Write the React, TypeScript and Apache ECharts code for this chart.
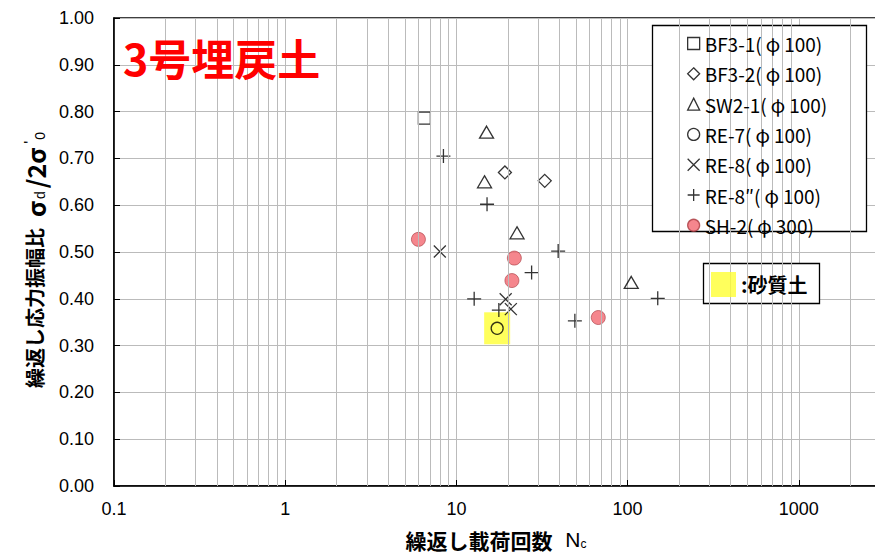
import React, { useEffect, useRef } from "react";
import * as echarts from "echarts";

// ---- data (N_c, σd/2σ'0) ----
const bf31 = [[6.5, 0.786]];
const bf32 = [[19.2, 0.670], [32.8, 0.652]];
const sw21 = [[15.0, 0.756], [14.6, 0.650], [22.6, 0.541], [105, 0.435]];
const re7 = [[17.3, 0.337]];
const re8 = [[8.0, 0.501], [19.4, 0.399], [20.8, 0.378]];
const re8b = [
  [8.4, 0.705], [15.1, 0.602], [39.3, 0.502], [27.5, 0.456],
  [12.7, 0.400], [17.7, 0.376], [49.2, 0.353], [150, 0.401],
];
const sh2 = [[6.0, 0.527], [21.8, 0.487], [21.1, 0.439], [67.4, 0.360]];
const sandy = [[17.3, 0.337]];

const seriesNames = [
  "BF3-1(φ100)",
  "BF3-2(φ100)",
  "SW2-1(φ100)",
  "RE-7(φ100)",
  "RE-8(φ100)",
  "RE-8″(φ100)",
  "SH-2(φ300)",
];
const sandyName = ":砂質土";
const titleText = "3号埋戻土";

const xMin = 0.1;
const xMax = 10000;
const yTicks = [0, 0.1, 0.2, 0.3, 0.4, 0.5, 0.6, 0.7, 0.8, 0.9, 1.0];
const minorGridX = [
  0.2, 0.3, 0.4, 0.5, 0.6, 0.7, 0.8, 0.9,
  2, 3, 4, 5, 6, 7, 8, 9,
  20, 30, 40, 50, 60, 70, 80, 90,
  200, 300, 400, 500, 600, 700, 800, 900,
  2000, 3000, 4000, 5000, 6000, 7000, 8000, 9000,
];

const GRID = "#bbbbbb";
const JP = "'Noto Sans CJK JP', 'Noto Sans', sans-serif";
const LAT = "'Liberation Sans', Arial, sans-serif";

const crossPath = "path://M0,0L12,12M12,0L0,12";
const plusPath = "path://M6,0L6,12M0,6L12,6";

export default function App() {
  const ref = useRef<HTMLDivElement>(null);
  useEffect(() => {
    if (!ref.current) return;
    const chart = echarts.init(ref.current, null, { renderer: "svg" });
    const hollow = {
      color: "rgba(255,255,255,0)",
      borderColor: "#000",
      borderWidth: 1.3,
    };
    const option: any = {
      animation: false,
      backgroundColor: "#fff",
      title: {
        text: titleText,
        left: 123,
        top: 34,
        padding: 0,
        textStyle: {
          fontSize: 43,
          fontWeight: "bold",
          color: "#ff0000",
          fontFamily: JP,
          lineHeight: 46,
        },
      },
      grid: {
        left: 114,
        top: 18,
        bottom: 72,
        right: 30,
        outerBoundsMode: "none",
        show: true,
        borderColor: "#000",
        borderWidth: 1.5,
        backgroundColor: "rgba(0,0,0,0)",
      },
      legend: [
        {
          data: seriesNames,
          orient: "vertical",
          left: 687,
          top: 34,
          padding: 0,
          itemGap: 11.3,
          itemWidth: 12,
          itemHeight: 12,
          z: 10,
          itemStyle: { borderWidth: 1.3 },
          formatter: (name: string) => name.replace("φ", "{p|φ}"),
          textStyle: {
            fontSize: 19,
            lineHeight: 18,
            color: "#000",
            fontFamily: JP,
            rich: {
              p: { fontSize: 19, lineHeight: 18, color: "#000", fontFamily: JP, padding: [0, 4, 0, 4] },
            },
          },
        },
        {
          data: [sandyName],
          orient: "vertical",
          left: 711,
          top: 272,
          padding: 0,
          itemWidth: 25,
          itemHeight: 25,
          z: 10,
          itemStyle: { borderWidth: 0 },
          textStyle: {
            fontSize: 20,
            fontWeight: "bold",
            color: "#000",
            fontFamily: JP,
          },
        },
      ],
      graphic: [
        {
          type: "rect",
          z: 5,
          shape: { x: 652.5, y: 25.5, width: 214, height: 206 },
          style: { fill: "#fff", stroke: "#000", lineWidth: 1.3 },
        },
        {
          type: "rect",
          z: 5,
          shape: { x: 703.5, y: 263.5, width: 116, height: 40 },
          style: { fill: "#fff", stroke: "#000", lineWidth: 1.3 },
        },
      ],
      xAxis: {
        type: "log",
        logBase: 10,
        min: xMin,
        max: xMax,
        name: "{t|繰返し載荷回数}  {n|N}{s|c}",
        nameLocation: "middle",
        nameGap: 43,
        nameTextStyle: {
          padding: [0, 92, 0, 0],
          rich: {
            t: { fontSize: 21, fontWeight: "bold", fontFamily: JP, color: "#000" },
            n: { fontSize: 21, fontFamily: LAT, color: "#000", padding: [0, 0, 0, 6] },
            s: { fontSize: 12, fontFamily: LAT, color: "#000", verticalAlign: "bottom", padding: [8, 0, 0, 0] },
          },
        },
        axisLine: { show: true, lineStyle: { color: "#000", width: 1.5 } },
        axisTick: { show: true, inside: true, length: 6, lineStyle: { color: "#000" } },
        axisLabel: {
          fontSize: 18,
          color: "#000",
          fontFamily: LAT,
          margin: 14,
          showMaxLabel: false,
          formatter: (v: number) => (v >= 1 ? String(Math.round(v)) : String(+v.toPrecision(1))),
        },
        splitLine: { show: true, lineStyle: { color: GRID, width: 1 } },
      },
      yAxis: {
        type: "value",
        min: 0,
        max: 1,
        interval: 0.1,
        name: "{t|繰返し応力振幅比}   {g|σ}{s|d}{g|/2σ}{p|'}{s|0}",
        nameLocation: "middle",
        nameRotate: 90,
        nameGap: 67,
        nameTextStyle: {
          padding: [0, 14, 0, 0],
          rich: {
            t: { fontSize: 20, fontWeight: "bold", fontFamily: JP, color: "#000" },
            g: { fontSize: 25, fontWeight: "bold", fontFamily: JP, color: "#000", padding: [0, 1, 0, 1] },
            s: { fontSize: 14, fontFamily: LAT, color: "#000", verticalAlign: "bottom", padding: [8, 2, 0, 1] },
            p: { fontSize: 16, fontFamily: LAT, color: "#000", verticalAlign: "top", padding: [0, 0, 0, 3] },
          },
        },
        axisLine: { show: true, lineStyle: { color: "#000", width: 1.5 } },
        axisTick: { show: true, inside: true, length: 6, lineStyle: { color: "#000" } },
        axisLabel: {
          fontSize: 18,
          color: "#000",
          fontFamily: LAT,
          margin: 20,
          formatter: (v: number) => v.toFixed(2),
          customValues: yTicks,
        },
        splitLine: { show: true, lineStyle: { color: GRID, width: 1 } },
      },
      series: [
        {
          name: "minor-grid",
          type: "scatter",
          data: [],
          z: 1,
          silent: true,
          markLine: {
            silent: true,
            symbol: ["none", "none"],
            label: { show: false },
            lineStyle: { color: GRID, type: "solid", width: 1 },
            emphasis: { disabled: true },
            data: minorGridX.map((v) => ({ xAxis: v })),
          },
        },
        {
          name: sandyName,
          type: "scatter",
          data: sandy,
          symbol: "rect",
          symbolSize: [26, 32],
          z: 2,
          itemStyle: { color: "#ffff33" },
        },
        {
          name: seriesNames[0],
          type: "scatter",
          data: bf31,
          symbol: "rect",
          symbolSize: 12,
          z: 3,
          itemStyle: hollow,
        },
        {
          name: seriesNames[1],
          type: "scatter",
          data: bf32,
          symbol: "diamond",
          symbolSize: 13,
          z: 3,
          itemStyle: hollow,
        },
        {
          name: seriesNames[2],
          type: "scatter",
          data: sw21,
          symbol: "triangle",
          symbolSize: [14, 12],
          z: 3,
          itemStyle: hollow,
        },
        {
          name: seriesNames[3],
          type: "scatter",
          data: re7,
          symbol: "circle",
          symbolSize: 12,
          z: 3,
          itemStyle: hollow,
        },
        {
          name: seriesNames[4],
          type: "scatter",
          data: re8,
          symbol: crossPath,
          symbolSize: 12,
          z: 3,
          itemStyle: hollow,
        },
        {
          name: seriesNames[5],
          type: "scatter",
          data: re8b,
          symbol: plusPath,
          symbolSize: 14,
          z: 3,
          itemStyle: hollow,
        },
        {
          name: seriesNames[6],
          type: "scatter",
          data: sh2,
          symbol: "circle",
          symbolSize: 14,
          z: 3,
          itemStyle: { color: "#f26870", borderColor: "#a83a40", borderWidth: 0.8 },
        },
      ],
    };
    chart.setOption(option);
    return () => chart.dispose();
  }, []);
  return (
    <div
      style={{
        position: "fixed",
        left: 0,
        top: 0,
        width: 875,
        height: 558,
        overflow: "hidden",
        background: "#fff",
      }}
    >
      <div ref={ref} style={{ width: 1000, height: 558 }} />
    </div>
  );
}
